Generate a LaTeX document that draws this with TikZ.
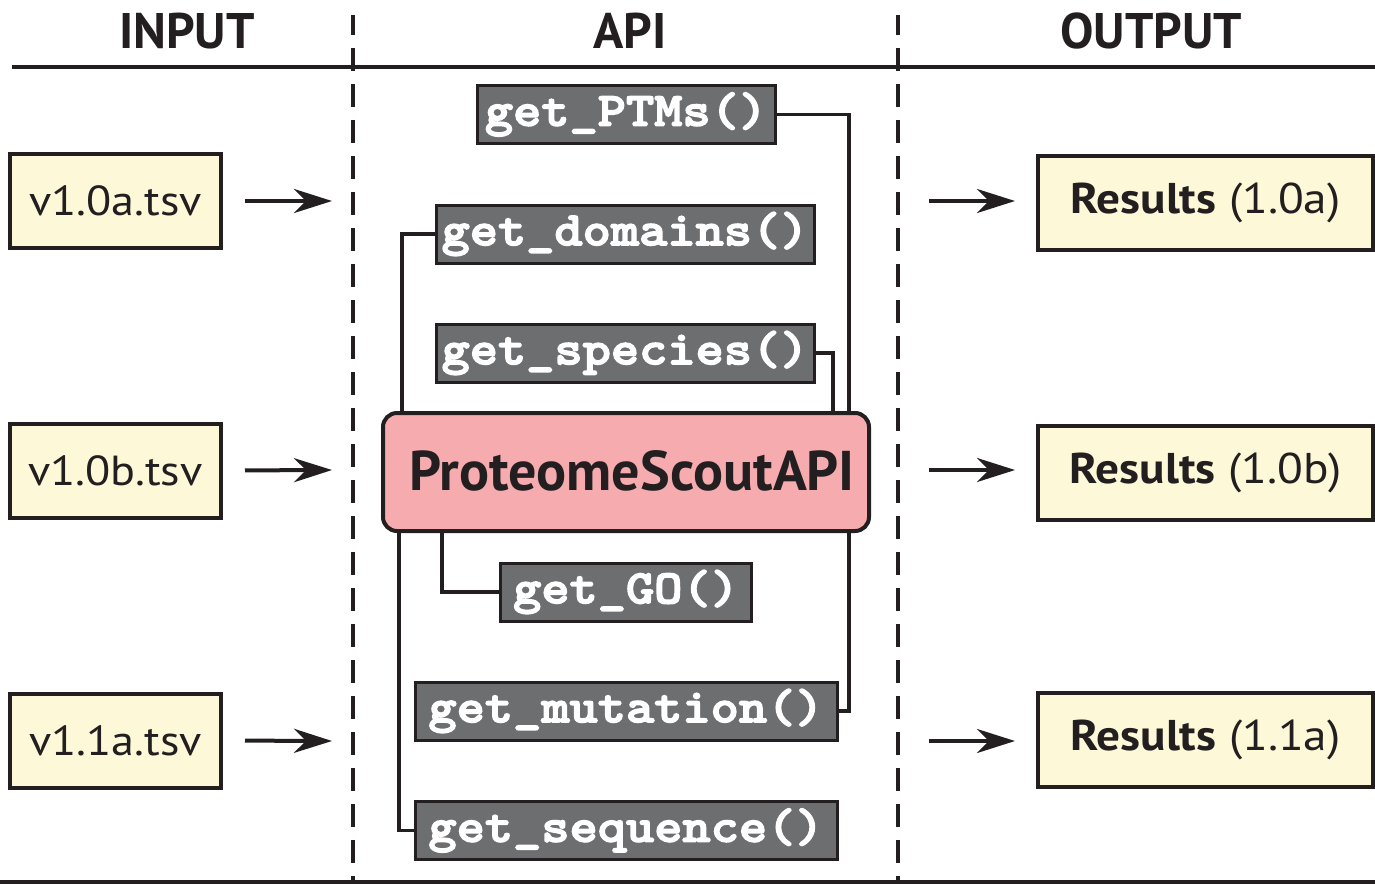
\documentclass[tikz,border=0pt]{standalone}
\usepackage{fontspec}
\setmainfont{PT Sans}
\newfontfamily\boxfont{PT Sans}[FakeStretch=1.1]
\newfontfamily\codefont{lmmonolt10-bold.otf}[FakeStretch=1.12,FakeBold=3]
\usetikzlibrary{arrows.meta}
\definecolor{cream}{HTML}{FCF8D8}
\definecolor{pinkapi}{HTML}{F6ACAF}
\definecolor{graybox}{HTML}{6D6E70}
\definecolor{ink}{HTML}{231F20}
\begin{document}
\begin{tikzpicture}[x=1pt,y=-1pt,
  header/.style={font=\fontsize{50}{60}\selectfont\bfseries, text=ink, inner sep=0pt},
  filebox/.style={draw=ink, line width=4pt, fill=cream, minimum width=211pt, minimum height=94pt, inner sep=0pt, text=ink, font=\boxfont\fontsize{42}{50}\selectfont},
  resbox/.style={draw=ink, line width=4pt, fill=cream, minimum width=335pt, minimum height=94pt, inner sep=0pt, text=ink, font=\boxfont\fontsize{43}{50}\selectfont},
  apibox/.style={draw=ink, line width=4pt, fill=pinkapi, rounded corners=14pt, minimum width=486pt, minimum height=118pt, inner sep=0pt},
  method/.style={draw=ink, line width=3pt, fill=graybox, text=white, inner sep=0pt, minimum height=58pt, font=\codefont\fontsize{48}{52}\selectfont},
  link/.style={draw=ink, line width=3.5pt},
  flow/.style={draw=ink, line width=4pt, -{Stealth[length=38pt,width=24pt,inset=12pt]}},
  sep/.style={draw=ink, line width=4pt},
  divider/.style={draw=ink, line width=3.5pt, dash pattern=on 23pt off 13pt, dash phase=3pt}
]
\useasboundingbox (0,0) rectangle (1375,884);

% section dividers
\draw[divider] (353,15) -- (353,884);
\draw[divider] (898,15) -- (898,884);
\draw[sep] (12,67) -- (1375,67);
\draw[sep] (0,882) -- (1375,882);

% headers
\node[header] (hin) at (187,31) {INPUT};
\node[header] (hapi) at (630,31) {API};
\node[header] (hout) at (1151,31) {OUTPUT};

% input files
\node[filebox] (in1) at (115.5,201) {v1.0a.tsv};
\node[filebox] (in2) at (115.5,470.5) {v1.0b.tsv};
\node[filebox] (in3) at (115.5,740.5) {v1.1a.tsv};

% outputs
\node[resbox] (out1) at (1205.5,202.5) {\textbf{Results} (1.0a)};
\node[resbox] (out2) at (1205.5,473) {\textbf{Results} (1.0b)};
\node[resbox] (out3) at (1205.5,740) {\textbf{Results} (1.1a)};

% arrow ends
\coordinate (e1) at (332,201);
\coordinate (e2) at (332,470);
\coordinate (e3) at (332,741);
\coordinate (s1) at (929,201);
\coordinate (s2) at (929,470);
\coordinate (s3) at (929,741);

\draw[flow, shorten <=22pt] (in1.east) -- (e1);
\draw[flow, shorten <=22pt] (in2.east) -- (e2);
\draw[flow, shorten <=22pt] (in3.east) -- (e3);
\draw[flow, shorten >=21pt] (s1) -- (s1 -| out1.west);
\draw[flow, shorten >=21pt] (s2) -- (s2 -| out2.west);
\draw[flow, shorten >=21pt] (s3) -- (s3 -| out3.west);

% API methods
\node[method, minimum width=298pt] (ptms) at (626,114.5) {get\_PTMs()};
\node[method, minimum width=378pt] (domains) at (625,234) {get\_domains()};
\node[method, minimum width=378pt] (species) at (625,353) {get\_species()};
\node[method, minimum width=251pt] (go) at (626,592) {get\_GO()};
\node[method, minimum width=422pt] (mutation) at (626,711) {get\_mutation()};
\node[method, minimum width=422pt] (sequence) at (626,830.5) {get\_sequence()};

% connector columns
\coordinate (xr) at (849,0);
\coordinate (xs) at (833,0);
\coordinate (xl) at (402,0);
\coordinate (xg) at (442,0);
\coordinate (xq) at (399,0);

% main API box
\node[apibox] (api) at (626,472) {};
\node[inner sep=0pt, font=\fontsize{56}{60}\selectfont\bfseries, text=ink] (apitext) at (632,471) {ProteomeScoutAPI};

\draw[link] (ptms.east) -| (api.north -| xr);
\draw[link] (species.east) -| (api.north -| xs);
\draw[link] (domains.west) -| (api.north -| xl);
\draw[link] (api.south -| xg) |- (go.west);
\draw[link] (api.south -| xr) |- (mutation.east);
\draw[link] (api.south -| xq) |- (sequence.west);
\end{tikzpicture}
\end{document}
